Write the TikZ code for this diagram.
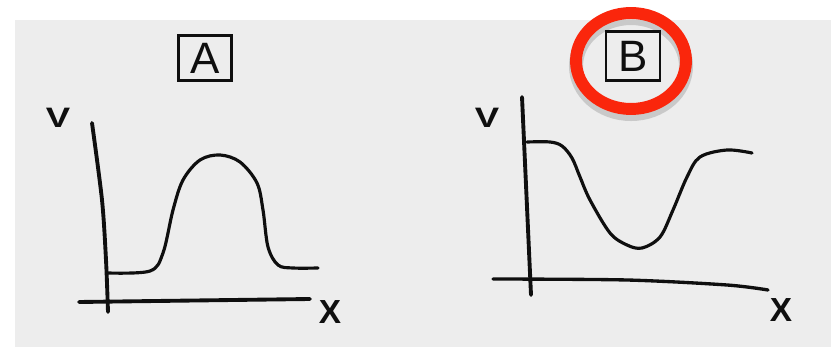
\documentclass[tikz,border=0pt]{standalone}
\usepackage{fontspec}
\setmainfont{Liberation Sans}
\usetikzlibrary{positioning,shapes.geometric}
\definecolor{paper}  {RGB}{237,237,237}
\definecolor{ink}    {RGB}{ 15, 15, 15}
\definecolor{ringred}{RGB}{250, 38, 12}
\tikzset{
  axis/.style={draw=ink,line width=2.2pt,line cap=round},
  graph/.style={draw=ink,line width=1.8pt,line cap=round},
  lbl/.style={text=ink,inner sep=0pt,font=\fontsize{16}{16}\bfseries},
  xlbl/.style={lbl,font=\fontsize{19}{19}\bfseries},
  boxlbl/.style={draw=ink,line width=1.6pt,text=ink,inner sep=0pt,
              minimum width=1.06cm,minimum height=0.9cm,
              font=\fontsize{25}{25}\selectfont},
  ringmark/.style={ellipse,draw=ringred,line width=6.8pt,
              minimum width=2.2cm,minimum height=1.92cm},
  ringshadow/.style={ringmark,draw=black,opacity=0.15,line width=8pt},
}
\begin{document}
\begin{tikzpicture}[x=0.02cm,y=-0.02cm]
  \useasboundingbox (0,0) rectangle (831,347);
  \fill[white] (0,0) rectangle (831,347);
  \fill[paper] (15,20) rectangle (831,347);

  % plot A
  \node[boxlbl](boxA) at (205,58) {A};
  \node[lbl,xscale=1.3](vA) at (58,118) {V};
  \node[xlbl](xA) at (330,312) {X};
  \draw[axis] plot[smooth] coordinates {(92,123) (102,200) (106,260) (108,312)};
  \draw[axis] (79,302) -- (310,299);
  \draw[graph] plot[smooth,tension=0.55] coordinates {
    (108,273) (150,271) (163,253) (173,210) (183,180) (200,160) (220,155)
    (240,162) (257,183) (263,210) (268,247) (278,265) (293,268) (318,268)};

  % plot B
  \node[ringshadow](ringsh) at (631,66) {};
  \node[boxlbl,minimum width=1.08cm,minimum height=0.98cm](boxB) at (633,56) {B};
  \node[ringmark](ring) at (631,61) {};
  \node[lbl,xscale=1.3](vB) at (487,118) {V};
  \node[xlbl](xB) at (781,310) {X};
  \draw[axis] (522,97) -- (531,295);
  \draw[axis,line width=1.9pt] plot[smooth] coordinates {(493,279) (627,280) (727,285) (768,290)};
  \draw[graph] plot[smooth,tension=0.55] coordinates {
    (527,142) (550,142) (562,146) (572,158) (580,177) (590,200) (610,233)
    (627,245) (642,248) (660,237) (673,210) (687,177) (700,157) (727,150)
    (752,153)};
\end{tikzpicture}
\end{document}
